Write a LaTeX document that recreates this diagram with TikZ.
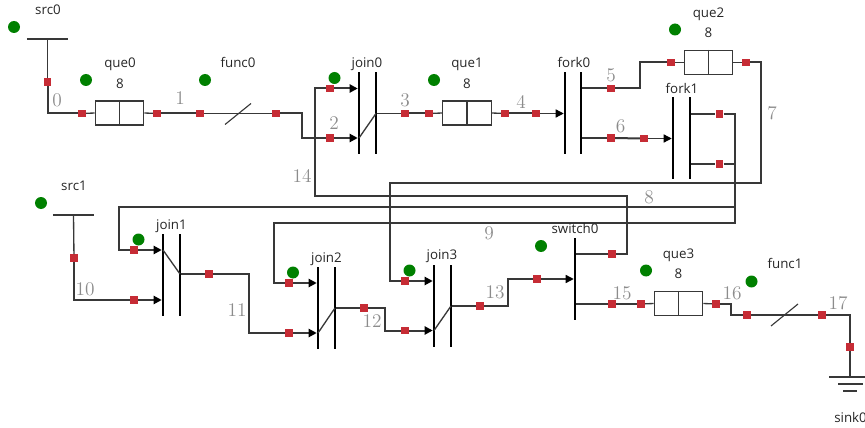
\documentclass[tikz,border=0pt]{standalone}
\usepackage{fontspec}
\newfontfamily\lblfont{Open Sans}
\usetikzlibrary{arrows.meta}
\definecolor{wirec}{HTML}{383838}
\definecolor{portc}{HTML}{C62C35}
\definecolor{dotc}{HTML}{008000}
\definecolor{elc}{HTML}{8C8C8C}
\tikzset{
  wire/.style={draw=wirec,line width=1.5pt,line join=miter},
  lead/.style={draw=wirec,line width=1pt},
  arrowed/.style={-{Triangle[length=6pt,width=6pt,color=black]}},
  port/.style={fill=portc,draw=none,inner sep=0,minimum width=5.8pt,minimum height=5.3pt},
  statedot/.style={circle,fill=dotc,draw=none,inner sep=0,minimum size=9pt},
  lbl/.style={font=\lblfont\fontsize{10}{12}\selectfont,text=black!85,inner sep=0,anchor=base,yshift=-3.4pt},
  elbl/.style={font=\fontsize{14.5}{16}\selectfont,text=elc,inner sep=0},
  bar/.style={fill=black,draw=none,inner sep=0,minimum width=1.5pt,minimum height=61.5pt},
  quebox/.style={draw=wirec,line width=0.85pt,fill=white,inner sep=0,minimum width=36.5pt,minimum height=18pt},
  funcslot/.style={inner sep=0,minimum width=37.5pt,minimum height=16pt},
  srcbar/.style={draw=wirec,line width=0.85pt},
}
\begin{document}
\begin{tikzpicture}[x=0.75pt,y=-0.75pt]
\useasboundingbox (0,0) rectangle (865,428);
% ports (under the wires)
\node[port] (p0a) at (47.5,82) {};
\node[port] (p0b) at (82,113.5) {};
\node[port] (p1a) at (157,113.5) {};
\node[port] (p1b) at (200,113.5) {};
\node[port] (p2a) at (276,113.5) {};
\node[port] (p2b) at (330,138) {};
\node[port] (p3a) at (405,113.5) {};
\node[port] (p3b) at (429,113.5) {};
\node[port] (p4a) at (505,113.5) {};
\node[port] (p4b) at (536,113.5) {};
\node[port] (p5a) at (611,88.5) {};
\node[port] (p5b) at (671,62.5) {};
\node[port] (p6a) at (611,138) {};
\node[port] (p6b) at (644,138.5) {};
\node[port] (p7a) at (746,62.5) {};
\node[port] (p7b) at (405,281) {};
\node[port] (p8a) at (719.5,114) {};
\node[port] (p8b) at (134,250) {};
\node[port] (p9a) at (719.5,164) {};
\node[port] (p9b) at (289,283) {};
\node[port] (p10a) at (74,258) {};
\node[port] (p10b) at (134,300) {};
\node[port] (p11a) at (209,274) {};
\node[port] (p11b) at (289,333) {};
\node[port] (p12a) at (364,308) {};
\node[port] (p12b) at (405,330.5) {};
\node[port] (p13a) at (480,306) {};
\node[port] (p13b) at (537,279) {};
\node[port] (p14a) at (612,254) {};
\node[port] (p14b) at (330,88.5) {};
\node[port] (p15a) at (612,304) {};
\node[port] (p15b) at (641,304) {};
\node[port] (p16a) at (716,304) {};
\node[port] (p16b) at (747,315) {};
\node[port] (p17a) at (822,315) {};
\node[port] (p17b) at (850,347) {};
% components
\node[bar] (j0a) at (359,113) {};
\node[bar] (j0b) at (376,113) {};
\node[bar] (fk0a) at (565,113) {};
\node[bar] (fk0b) at (581,113) {};
\node[bar] (fk1a) at (673,138.5) {};
\node[bar] (fk1b) at (690,138.5) {};
\node[bar] (j1a) at (163,275) {};
\node[bar] (j1b) at (180,275) {};
\node[bar] (j2a) at (318,308) {};
\node[bar] (j2b) at (335,308) {};
\node[bar] (j3a) at (434,306) {};
\node[bar] (j3b) at (451,306) {};
\node[bar] (sw0) at (575,279) {};
\node[quebox] (q0) at (119.5,113) {};
\node[quebox] (q1) at (467,113) {};
\node[quebox] (q2) at (708.5,62.5) {};
\node[quebox] (q3) at (678.5,303.5) {};
\node[funcslot] (f0) at (238,113.5) {};
\node[funcslot] (f1) at (785,315) {};
\coordinate (s0) at (47.5,39);
\coordinate (s1) at (73.5,215);
\coordinate (k0) at (850,377);
% component details
\draw[lead] (q0.north) -- (q0.south);
\draw[lead] (q1.north) -- (q1.south);
\draw[lead] (q2.north) -- (q2.south);
\draw[lead] (q3.north) -- (q3.south);
\draw[srcbar] ([xshift=-15.5pt]s0) -- ([xshift=15.5pt]s0);
\draw[srcbar] ([xshift=-15.5pt]s1) -- ([xshift=15.5pt]s1);
\draw[srcbar] ([xshift=-15.5pt]k0) -- ([xshift=11pt]k0);
\draw[srcbar] ([shift={(-12,7)}]k0) -- ([shift={(13,7)}]k0);
\draw[srcbar] ([shift={(-7,14)}]k0) -- ([shift={(7,14)}]k0);
\draw[srcbar] ([shift={(-13,11)}]f0.center) -- ([shift={(13,-10)}]f0.center);
\draw[srcbar] ([shift={(-14,11)}]f1.center) -- ([shift={(13,-11)}]f1.center);
\draw[lead] (j0a.center |- p2b) -- (j0b.center |- p3a);
\draw[lead] (j1a.center |- p8b) -- (j1b.center |- p11a);
\draw[lead] (j2a.center |- p11b) -- (j2b.center |- p12a);
\draw[lead] (j3a.center |- p12b) -- (j3b.center |- p13a);
% bend points
\coordinate (b2) at (302,113.5);
\coordinate (b5) at (640,88.5);
\coordinate (b7a) at (761,62.5);
\coordinate (b7b) at (761,183);
\coordinate (b7c) at (390,183);
\coordinate (b8a) at (734.5,114);
\coordinate (b8b) at (734.5,207);
\coordinate (b8c) at (119,207);
\coordinate (b9a) at (734.5,164);
\coordinate (b9b) at (734.5,223);
\coordinate (b9c) at (274,223);
\coordinate (b11) at (249,274);
\coordinate (b12) at (385,308);
\coordinate (b13) at (508,306);
\coordinate (b14a) at (627,254);
\coordinate (b14b) at (627,196);
\coordinate (b14c) at (314.5,196);
\coordinate (b16) at (731,304);
\coordinate (b17) at (850,315);
% connectors
\draw[lead] (s0) -- (p0a);
\draw[wire] (p0a) |- (p0b);
\draw[lead] (p0b) -- (q0.west);
\draw[lead] (q0.east) -- (p1a);
\draw[wire] (p1a) -- (p1b);
\draw[lead] (p1b) -- (f0.west) -- (f0.east) -- (p2a);
\draw[wire] (p2a) -- (b2) |- (p2b);
\draw[wire,arrowed] (p2b) -- (p2b -| j0a.west);
\draw[lead] (j0b.east |- p3a) -- (p3a);
\draw[wire] (p3a) -- (p3b);
\draw[lead] (p3b) -- (q1.west);
\draw[lead] (q1.east) -- (p4a);
\draw[wire] (p4a) -- (p4b);
\draw[lead,arrowed] (p4b) -- (p4b -| fk0a.west);
\draw[wire] (fk0b.east |- p5a) -- (p5a);
\draw[wire] (p5a) -- (b5) |- (p5b);
\draw[lead] (p5b) -- (q2.west);
\draw[wire] (fk0b.east |- p6a) -- (p6a);
\draw[wire] (p6a) -- (p6b);
\draw[lead,arrowed] (p6b) -- (p6b -| fk1a.west);
\draw[lead] (q2.east) -- (p7a);
\draw[wire] (p7a) -- (b7a) -- (b7b) -- (b7c) |- (p7b);
\draw[wire,arrowed] (p7b) -- (p7b -| j3a.west);
\draw[wire] (fk1b.east |- p8a) -- (p8a);
\draw[wire] (p8a) -- (b8a) -- (b8b) -- (b8c) |- (p8b);
\draw[wire,arrowed] (p8b) -- (p8b -| j1a.west);
\draw[wire] (fk1b.east |- p9a) -- (p9a);
\draw[wire] (p9a) -- (b9a) -- (b9b) -- (b9c) |- (p9b);
\draw[wire,arrowed] (p9b) -- (p9b -| j2a.west);
\draw[lead] (s1) -- (p10a);
\draw[wire] (p10a) |- (p10b);
\draw[wire,arrowed] (p10b) -- (p10b -| j1a.west);
\draw[wire] (j1b.east |- p11a) -- (p11a);
\draw[wire] (p11a) -- (b11) |- (p11b);
\draw[wire,arrowed] (p11b) -- (p11b -| j2a.west);
\draw[wire] (j2b.east |- p12a) -- (p12a);
\draw[wire] (p12a) -- (b12) |- (p12b);
\draw[wire,arrowed] (p12b) -- (p12b -| j3a.west);
\draw[wire] (j3b.east |- p13a) -- (p13a);
\draw[wire] (p13a) -- (b13) |- (p13b);
\draw[lead,arrowed] (p13b) -- (p13b -| sw0.west);
\draw[wire] (sw0.east |- p14a) -- (p14a);
\draw[wire] (p14a) -- (b14a) -- (b14b) -- (b14c) |- (p14b);
\draw[wire,arrowed] (p14b) -- (p14b -| j0a.west);
\draw[wire] (sw0.east |- p15a) -- (p15a);
\draw[wire] (p15a) -- (p15b);
\draw[lead] (p15b) -- (q3.west);
\draw[lead] (q3.east) -- (p16a);
\draw[wire] (p16a) -- (b16) |- (p16b);
\draw[lead] (p16b) -- (f1.west) -- (f1.east) -- (p17a);
\draw[wire] (p17a) -- (b17) -- (p17b);
\draw[lead] (p17b) -- (k0);
% state dots
\node[statedot] (d1) at (14,27) {};
\node[statedot] (d2) at (86,80) {};
\node[statedot] (d3) at (205,80) {};
\node[statedot] (d4) at (334.5,78) {};
\node[statedot] (d5) at (434,80) {};
\node[statedot] (d6) at (675,29.5) {};
\node[statedot] (d7) at (41,203) {};
\node[statedot] (d8) at (138.5,239.5) {};
\node[statedot] (d9) at (293,272.5) {};
\node[statedot] (d10) at (409.5,270.5) {};
\node[statedot] (d11) at (541,246) {};
\node[statedot] (d12) at (646,270.5) {};
\node[statedot] (d13) at (751.5,281.5) {};
% component labels
\node[lbl] (l1) at (48,10) {src0};
\node[lbl] (l2) at (120,63) {que0};
\node[lbl] (l3) at (120,84) {8};
\node[lbl] (l4) at (238,63) {func0};
\node[lbl] (l5) at (367,63) {join0};
\node[lbl] (l6) at (467,63) {que1};
\node[lbl] (l7) at (467,84) {8};
\node[lbl] (l8) at (574,63) {fork0};
\node[lbl] (l9) at (708.5,13) {que2};
\node[lbl] (l10) at (708.5,33) {8};
\node[lbl] (l11) at (682,88.5) {fork1};
\node[lbl] (l12) at (74,186) {src1};
\node[lbl] (l13) at (171.5,225) {join1};
\node[lbl] (l14) at (326.5,257.5) {join2};
\node[lbl] (l15) at (442,255) {join3};
\node[lbl] (l16) at (575,229) {switch0};
\node[lbl] (l17) at (678.5,254) {que3};
\node[lbl] (l18) at (678.5,274) {8};
\node[lbl] (l19) at (785,264) {func1};
\node[lbl,anchor=base west] (l20) at (834,418) {sink0};
% connector labels
\node[elbl] (e0) at (57,100) {0};
\node[elbl] (e1) at (180,98.5) {1};
\node[elbl] (e2) at (334,123) {2};
\node[elbl] (e3) at (405,100) {3};
\node[elbl] (e4) at (521,102) {4};
\node[elbl] (e5) at (611,75) {5};
\node[elbl] (e6) at (620.5,126) {6};
\node[elbl] (e7) at (772,113) {7};
\node[elbl] (e8) at (649,197) {8};
\node[elbl] (e9) at (489,233) {9};
\node[elbl] (e10) at (85,289) {10};
\node[elbl] (e11) at (237,310) {11};
\node[elbl] (e12) at (372,321) {12};
\node[elbl] (e13) at (495,292) {13};
\node[elbl] (e14) at (302,176) {14};
\node[elbl] (e15) at (622,293) {15};
\node[elbl] (e16) at (732,293) {16};
\node[elbl] (e17) at (838,303) {17};
\end{tikzpicture}
\end{document}
